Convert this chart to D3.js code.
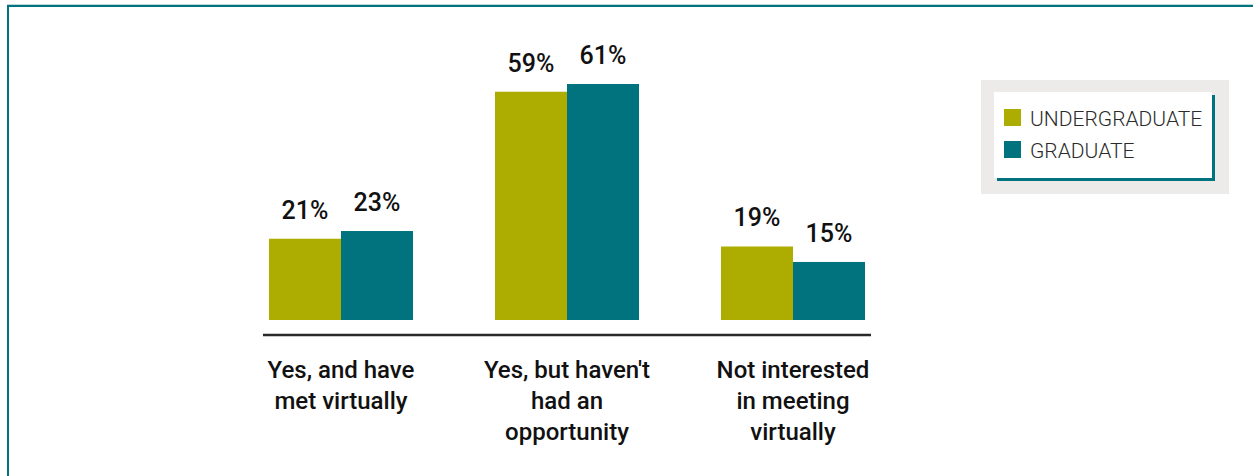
<!DOCTYPE html>
<html>
<head>
<meta charset="utf-8">
<script src="https://cdn.jsdelivr.net/npm/d3@7"></script>
<style>
  html, body { margin: 0; padding: 0; background: #fff; }
  svg { display: block; }
</style>
</head>
<body>
<svg id="chart" width="1253" height="476"></svg>
<script>
// Survey responses by student level
const categories = [
  ["Yes, and have", "met virtually"],
  ["Yes, but haven't", "had an", "opportunity"],
  ["Not interested", "in meeting", "virtually"]
];
const seriesNames = ["UNDERGRADUATE", "GRADUATE"];
const undergraduate = [21, 59, 19];
const graduate = [23, 61, 15];
const seriesColors = ["#adac00", "#00737f"];

const W = 1253, H = 476;
const svg = d3.select("#chart");
const teal = "#00737f";

// Frame: top and left rules
svg.append("rect").attr("x", 7).attr("y", 4).attr("width", W - 7).attr("height", 1).attr("fill", "#bcdadb");
svg.append("rect").attr("x", 7).attr("y", 5).attr("width", W - 7).attr("height", 2).attr("fill", teal);
svg.append("rect").attr("x", 7).attr("y", 5).attr("width", 2).attr("height", H - 5).attr("fill", teal);

const catKeys = categories.map(c => c.join(" "));
const values = [undergraduate, graduate];

const baseY = 320;
const y = d3.scaleLinear().domain([0, 61]).range([baseY, 84]);
const x0 = d3.scaleBand().domain(catKeys).range([228, 906])
  .paddingInner(0.3628).paddingOuter(0.1814);
const x1 = d3.scaleBand().domain(seriesNames).range([0, x0.bandwidth()]).padding(0);

const font = "Roboto, 'Open Sans', sans-serif";

const groups = svg.append("g").selectAll("g")
  .data(catKeys)
  .join("g")
  .attr("transform", d => `translate(${x0(d)},0)`);

groups.selectAll("rect")
  .data((d, i) => seriesNames.map((s, j) => ({ s, v: values[j][i], c: seriesColors[j] })))
  .join("rect")
  .attr("x", d => x1(d.s))
  .attr("y", d => y(d.v))
  .attr("width", x1.bandwidth())
  .attr("height", d => baseY - y(d.v))
  .attr("fill", d => d.c);

groups.selectAll("text.val")
  .data((d, i) => seriesNames.map((s, j) => ({ s, v: values[j][i] })))
  .join("text")
  .attr("class", "val")
  .attr("x", d => x1(d.s) + x1.bandwidth() / 2)
  .attr("y", d => y(d.v) - 20)
  .attr("text-anchor", "middle")
  .attr("font-family", font)
  .attr("font-weight", 500)
  .attr("font-size", 25)
  .attr("fill", "#111")
  .text(d => d.v + "%");

// Baseline rule
svg.append("line")
  .attr("x1", x0(catKeys[0]) - 6)
  .attr("x2", x0(catKeys[2]) + x0.bandwidth() + 6)
  .attr("y1", 335).attr("y2", 335)
  .attr("stroke", "#2a2a2a")
  .attr("stroke-width", 2.5);

// Category labels
const labels = svg.append("g").selectAll("text")
  .data(categories)
  .join("text")
  .attr("text-anchor", "middle")
  .attr("font-family", font)
  .attr("font-weight", 500)
  .attr("font-size", 24)
  .attr("fill", "#111");
labels.each(function(lines, i) {
  const t = d3.select(this);
  const cx = x0(catKeys[i]) + x0.bandwidth() / 2;
  lines.forEach((ln, k) => {
    t.append("tspan").attr("x", cx).attr("y", 378 + k * 31).text(ln);
  });
});

// Legend
const lg = svg.append("g");
lg.append("rect").attr("x", 981).attr("y", 80).attr("width", 248).attr("height", 114).attr("fill", "#ecebe9");
lg.append("rect").attr("x", 997).attr("y", 95).attr("width", 218).attr("height", 86).attr("fill", teal);
lg.append("rect").attr("x", 994).attr("y", 92).attr("width", 218).attr("height", 86).attr("fill", "#fff");
seriesNames.forEach((s, j) => {
  lg.append("rect").attr("x", 1004).attr("y", 109 + j * 32).attr("width", 17).attr("height", 17).attr("fill", seriesColors[j]);
  lg.append("text").attr("x", 1030).attr("y", 126 + j * 32)
    .attr("font-family", font).attr("font-weight", 300).attr("font-size", 21)
    .attr("fill", "#2b2b2b").text(s);
});
</script>
</body>
</html>
